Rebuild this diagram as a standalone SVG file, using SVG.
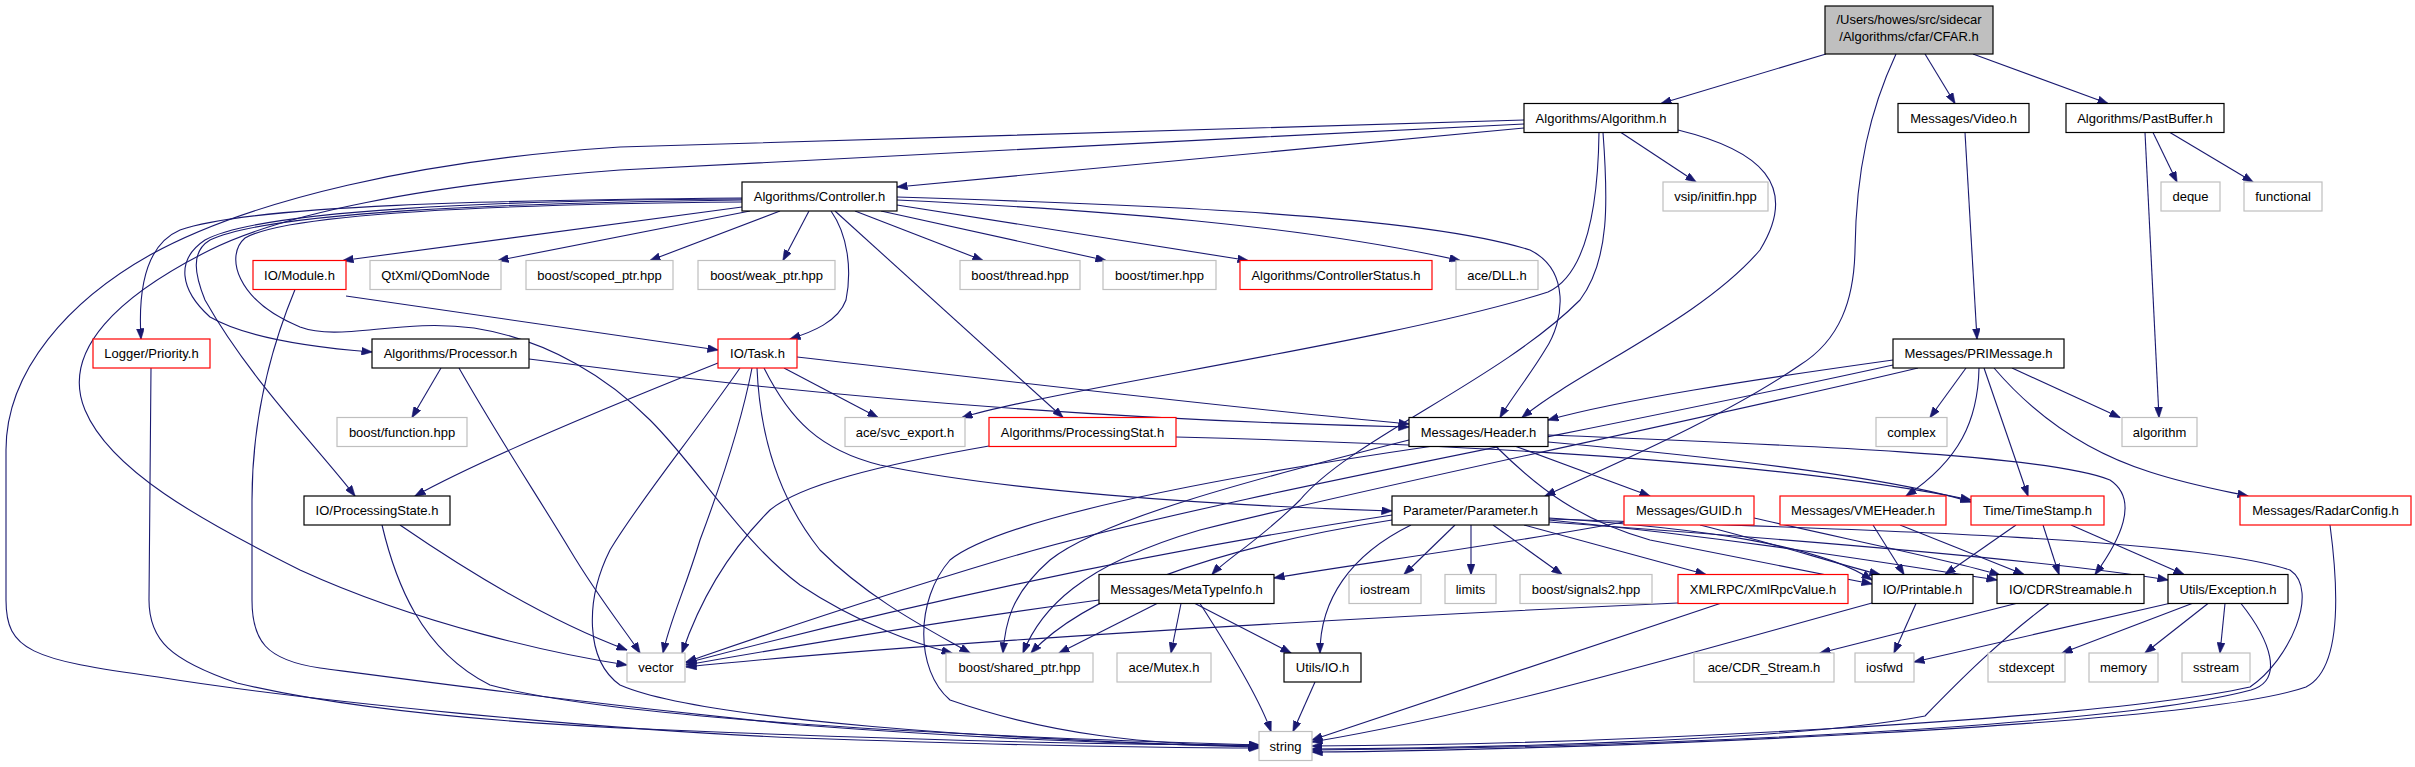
<svg xmlns="http://www.w3.org/2000/svg" width="2415" height="767" viewBox="0 0 2415 767">
<style>
.e path{fill:none;stroke:#191970;stroke-width:1.1;marker-end:url(#ah)}
.nb rect{fill:#fff;stroke:#000;stroke-width:1.2}
.nr rect{fill:#fff;stroke:#ff0000;stroke-width:1.2}
.ng rect{fill:#fff;stroke:#bfbfbf;stroke-width:1.2}
.nc rect{fill:#bfbfbf;stroke:#000;stroke-width:1.2}
text{font-family:"Liberation Sans",Arial,Helvetica,sans-serif;font-size:13px;text-anchor:middle;fill:#000}
</style>
<defs>
<marker id="ah" markerUnits="userSpaceOnUse" markerWidth="11" markerHeight="8" viewBox="0 0 11 8" refX="10.5" refY="4" orient="auto"><path d="M0,0 L11,4 L0,8 z" fill="#191970" stroke="#191970" stroke-width="0.5"/></marker>
</defs>
<rect width="2415" height="767" fill="#fff"/>
<g id="edges" class="e">
<path d="M1826,54 L1661,103.5"/>
<path d="M1925,54 L1955,103.5"/>
<path d="M1973,54 L2108,103.5"/>
<path d="M1896,54 C1870,110 1856,170 1855,250 C1854,300 1840,340 1800,365 C1720,420 1600,470 1545,496"/>
<path d="M1524,128 L897,187"/>
<path d="M1621,132.5 L1696,182"/>
<path d="M1678,130 C1760,150 1800,185 1760,250 C1700,320 1580,370 1522,417.5"/>
<path d="M1603,132.5 C1608,200 1610,260 1580,300 C1500,380 1350,440 1300,500 C1260,540 1225,560 1212,574.5"/>
<path d="M1599,132.5 C1598,210 1585,275 1548,292 C1400,340 1050,390 962,417.5"/>
<path d="M1524,124 C1200,140 800,160 620,170 C420,185 280,215 210,250 C120,295 60,350 85,410 C110,470 200,520 300,570 C420,625 560,655 627,665"/>
<path d="M1524,120 C1150,132 800,140 620,147 C420,160 250,200 150,255 C70,300 6,370 6,450 L6,600 C6,650 30,660 158,677 C300,700 600,730 800,738 C1000,745 1150,748 1259,748"/>
<path d="M742,198 C500,200 250,205 180,230 C145,245 138,290 141,339"/>
<path d="M742,207 L343,260.5"/>
<path d="M750,211 L498,260.5"/>
<path d="M780,211 L650,260.5"/>
<path d="M809,211 L783,260.5"/>
<path d="M855,211 L983,260.5"/>
<path d="M881,211 L1106,260.5"/>
<path d="M897,205 L1248,260.5"/>
<path d="M897,200 C1100,210 1300,225 1460,260.5"/>
<path d="M831,211 C848,235 852,270 846,300 C838,322 812,332 790,339"/>
<path d="M835,211 L1063,417.5"/>
<path d="M897,197 C1150,205 1420,215 1530,250 C1570,270 1565,320 1545,350 C1530,375 1510,400 1500,417.5"/>
<path d="M742,199 C500,200 260,210 205,240 C175,260 180,290 210,317 C250,340 320,348 372,352"/>
<path d="M742,200 C500,203 270,212 210,240 C190,252 195,275 205,300 C250,380 320,450 355,496"/>
<path d="M742,202 C520,204 290,212 245,238 C225,255 235,300 300,327 C340,342 400,318 474,328 C550,340 610,380 650,420 C700,470 740,540 800,585 C860,625 920,645 952,653"/>
<path d="M1965,132.5 L1977,339"/>
<path d="M2153,132.5 L2177,182"/>
<path d="M2170,132.5 L2253,182"/>
<path d="M2145,132.5 L2159,417.5"/>
<path d="M346,296 L718,350"/>
<path d="M295,289.5 C270,350 252,420 252,500 L252,600 C252,640 265,660 320,668 C450,685 600,705 800,725 C1000,740 1150,745 1259,746"/>
<path d="M151,368 L149,600 C149,640 170,660 237,683 C350,710 500,722 620,728 C900,740 1100,745 1259,745"/>
<path d="M441,368 L412,417.5"/>
<path d="M529,359 C800,395 1100,420 1409,427"/>
<path d="M459,368 C500,440 540,500 570,550 C600,600 625,630 640,653"/>
<path d="M718,363 C600,410 480,460 415,496"/>
<path d="M784,368 L878,417.5"/>
<path d="M797,357 C1000,380 1200,405 1409,424"/>
<path d="M764,368 C790,420 820,450 880,465 C1000,490 1200,505 1392,511"/>
<path d="M752,368 C740,430 715,500 700,540 C685,590 670,620 663,653"/>
<path d="M757,368 C760,440 780,500 820,550 C870,600 930,630 970,653"/>
<path d="M740,368 C690,440 640,500 610,550 C585,600 585,660 620,685 C700,720 1000,740 1259,747"/>
<path d="M1966,368 L1930,417.5"/>
<path d="M2012,368 L2120,417.5"/>
<path d="M1979,368 C1978,420 1960,460 1906,496"/>
<path d="M1984,368 L2028,496"/>
<path d="M1994,368 C2030,410 2080,450 2150,472 C2190,485 2220,490 2248,496"/>
<path d="M1893,360 C1750,380 1620,400 1548,420"/>
<path d="M1893,365 C1600,430 1200,500 1000,560 C850,605 750,640 686,662"/>
<path d="M1918,368 C1700,420 1400,480 1200,530 C1080,565 1040,610 1023,653"/>
<path d="M989,446 C880,465 800,485 770,510 C730,550 700,600 682,653"/>
<path d="M1176,437 C1500,445 1800,465 1971,500"/>
<path d="M1516,446.5 L1650,496"/>
<path d="M1548,442 C1750,460 1900,480 1971,502"/>
<path d="M1548,435 C1800,445 2050,455 2110,480 C2140,500 2120,540 2095,574.5"/>
<path d="M1496,446.5 C1540,490 1580,520 1650,540 C1750,560 1830,575 1872,584"/>
<path d="M1409,440 C1250,480 1100,520 1050,560 C1010,595 1005,625 1003,653"/>
<path d="M1430,446.5 C1200,480 1000,520 950,560 C915,600 915,670 950,700 C1050,735 1150,745 1259,746"/>
<path d="M400,525 C480,580 560,625 627,650"/>
<path d="M382,525 C395,580 420,650 490,685 C600,715 900,735 1259,745"/>
<path d="M1392,515 C1100,560 850,620 686,663"/>
<path d="M1392,520 C1200,550 1080,600 1031,653"/>
<path d="M1455,525 L1404,574.5"/>
<path d="M1471,525 L1471,574.5"/>
<path d="M1493,525 L1562,574.5"/>
<path d="M1524,525 L1706,574.5"/>
<path d="M1411,525 C1350,555 1320,600 1320,653"/>
<path d="M1549,518 C1700,528 1820,545 1872,580"/>
<path d="M1549,520 C1750,540 1900,565 1997,580"/>
<path d="M1549,522 C1800,540 2050,560 2168,580"/>
<path d="M1549,519 C1900,530 2200,540 2290,570 C2320,590 2290,660 2250,687 C2100,720 1600,745 1312,746"/>
<path d="M1624,522 C1500,545 1350,565 1274,578"/>
<path d="M1700,525 C1780,545 1840,565 1880,574.5"/>
<path d="M1754,518 C1850,540 1950,560 2000,575"/>
<path d="M1873,525 L1904,574.5"/>
<path d="M1900,525 L2024,574.5"/>
<path d="M2016,525 L1945,574.5"/>
<path d="M2043,525 L2059,574.5"/>
<path d="M2071,525 L2184,574.5"/>
<path d="M2330,525 C2340,600 2340,670 2306,687 C2200,725 1600,750 1312,752"/>
<path d="M1099,600 C950,620 800,645 686,665"/>
<path d="M1157,603.5 L1059,653"/>
<path d="M1181,603.5 L1171,653"/>
<path d="M1195,603.5 L1291,653"/>
<path d="M1200,603.5 C1230,650 1260,700 1271,731.5"/>
<path d="M1678,603 C1300,620 900,645 686,667"/>
<path d="M1720,603.5 C1550,660 1400,710 1312,740"/>
<path d="M1315,682 L1293,731.5"/>
<path d="M1916,603.5 L1894,653"/>
<path d="M1872,603 C1700,650 1500,710 1312,742"/>
<path d="M2016,603.5 L1820,653"/>
<path d="M2049,603.5 C2000,640 1960,680 1925,716 C1800,740 1500,748 1312,749"/>
<path d="M2169,603.5 L1914,662"/>
<path d="M2192,603.5 L2062,653"/>
<path d="M2208,603.5 L2145,653"/>
<path d="M2225,603.5 L2220,653"/>
<path d="M2241,603.5 C2270,640 2285,680 2251,690 C2100,730 1600,748 1312,750"/>
</g>
<g id="n-cfar" class="nc"><rect x="1825" y="6" width="168" height="48"/><text x="1909" y="24">/Users/howes/src/sidecar</text><text x="1909" y="41">/Algorithms/cfar/CFAR.h</text></g>
<g id="n-algorithm-h" class="nb"><rect x="1524" y="103.5" width="154" height="29"/><text x="1601" y="122.5">Algorithms/Algorithm.h</text></g>
<g id="n-video" class="nb"><rect x="1898" y="103.5" width="131" height="29"/><text x="1963.5" y="122.5">Messages/Video.h</text></g>
<g id="n-pastbuffer" class="nb"><rect x="2066" y="103.5" width="158" height="29"/><text x="2145" y="122.5">Algorithms/PastBuffer.h</text></g>
<g id="n-controller" class="nb"><rect x="742" y="182" width="155" height="29"/><text x="819.5" y="201">Algorithms/Controller.h</text></g>
<g id="n-vsip" class="ng"><rect x="1663" y="182" width="105" height="29"/><text x="1715.5" y="201">vsip/initfin.hpp</text></g>
<g id="n-deque" class="ng"><rect x="2161" y="182" width="59" height="29"/><text x="2190.5" y="201">deque</text></g>
<g id="n-functional" class="ng"><rect x="2244" y="182" width="78" height="29"/><text x="2283" y="201">functional</text></g>
<g id="n-module" class="nr"><rect x="253" y="260.5" width="93" height="29"/><text x="299.5" y="279.5">IO/Module.h</text></g>
<g id="n-qdomnode" class="ng"><rect x="370" y="260.5" width="131" height="29"/><text x="435.5" y="279.5">QtXml/QDomNode</text></g>
<g id="n-scoped" class="ng"><rect x="526" y="260.5" width="147" height="29"/><text x="599.5" y="279.5">boost/scoped_ptr.hpp</text></g>
<g id="n-weak" class="ng"><rect x="698" y="260.5" width="137" height="29"/><text x="766.5" y="279.5">boost/weak_ptr.hpp</text></g>
<g id="n-thread" class="ng"><rect x="960" y="260.5" width="120" height="29"/><text x="1020" y="279.5">boost/thread.hpp</text></g>
<g id="n-timer" class="ng"><rect x="1103" y="260.5" width="113" height="29"/><text x="1159.5" y="279.5">boost/timer.hpp</text></g>
<g id="n-ctrlstatus" class="nr"><rect x="1240" y="260.5" width="192" height="29"/><text x="1336" y="279.5">Algorithms/ControllerStatus.h</text></g>
<g id="n-dll" class="ng"><rect x="1456" y="260.5" width="82" height="29"/><text x="1497" y="279.5">ace/DLL.h</text></g>
<g id="n-logger" class="nr"><rect x="93" y="339" width="117" height="29"/><text x="151.5" y="358">Logger/Priority.h</text></g>
<g id="n-processor" class="nb"><rect x="372" y="339" width="157" height="29"/><text x="450.5" y="358">Algorithms/Processor.h</text></g>
<g id="n-task" class="nr"><rect x="718" y="339" width="79" height="29"/><text x="757.5" y="358">IO/Task.h</text></g>
<g id="n-primessage" class="nb"><rect x="1893" y="339" width="171" height="29"/><text x="1978.5" y="358">Messages/PRIMessage.h</text></g>
<g id="n-function" class="ng"><rect x="337" y="417.5" width="130" height="29"/><text x="402" y="436.5">boost/function.hpp</text></g>
<g id="n-svcexport" class="ng"><rect x="845" y="417.5" width="120" height="29"/><text x="905" y="436.5">ace/svc_export.h</text></g>
<g id="n-procstat" class="nr"><rect x="989" y="417.5" width="187" height="29"/><text x="1082.5" y="436.5">Algorithms/ProcessingStat.h</text></g>
<g id="n-header" class="nb"><rect x="1409" y="417.5" width="139" height="29"/><text x="1478.5" y="436.5">Messages/Header.h</text></g>
<g id="n-complex" class="ng"><rect x="1876" y="417.5" width="71" height="29"/><text x="1911.5" y="436.5">complex</text></g>
<g id="n-algorithm" class="ng"><rect x="2122" y="417.5" width="75" height="29"/><text x="2159.5" y="436.5">algorithm</text></g>
<g id="n-procstate" class="nb"><rect x="304" y="496" width="146" height="29"/><text x="377" y="515">IO/ProcessingState.h</text></g>
<g id="n-parameter" class="nb"><rect x="1392" y="496" width="157" height="29"/><text x="1470.5" y="515">Parameter/Parameter.h</text></g>
<g id="n-guid" class="nr"><rect x="1624" y="496" width="130" height="29"/><text x="1689" y="515">Messages/GUID.h</text></g>
<g id="n-vmeheader" class="nr"><rect x="1780" y="496" width="166" height="29"/><text x="1863" y="515">Messages/VMEHeader.h</text></g>
<g id="n-timestamp" class="nr"><rect x="1971" y="496" width="133" height="29"/><text x="2037.5" y="515">Time/TimeStamp.h</text></g>
<g id="n-radarconfig" class="nr"><rect x="2240" y="496" width="171" height="29"/><text x="2325.5" y="515">Messages/RadarConfig.h</text></g>
<g id="n-metatype" class="nb"><rect x="1099" y="574.5" width="175" height="29"/><text x="1186.5" y="593.5">Messages/MetaTypeInfo.h</text></g>
<g id="n-iostream" class="ng"><rect x="1349" y="574.5" width="72" height="29"/><text x="1385" y="593.5">iostream</text></g>
<g id="n-limits" class="ng"><rect x="1445" y="574.5" width="51" height="29"/><text x="1470.5" y="593.5">limits</text></g>
<g id="n-signals2" class="ng"><rect x="1520" y="574.5" width="132" height="29"/><text x="1586" y="593.5">boost/signals2.hpp</text></g>
<g id="n-xmlrpc" class="nr"><rect x="1678" y="574.5" width="170" height="29"/><text x="1763" y="593.5">XMLRPC/XmlRpcValue.h</text></g>
<g id="n-printable" class="nb"><rect x="1872" y="574.5" width="101" height="29"/><text x="1922.5" y="593.5">IO/Printable.h</text></g>
<g id="n-cdrstreamable" class="nb"><rect x="1997" y="574.5" width="147" height="29"/><text x="2070.5" y="593.5">IO/CDRStreamable.h</text></g>
<g id="n-exception" class="nb"><rect x="2168" y="574.5" width="120" height="29"/><text x="2228" y="593.5">Utils/Exception.h</text></g>
<g id="n-vector" class="ng"><rect x="627" y="653" width="58" height="29"/><text x="656" y="672">vector</text></g>
<g id="n-sharedptr" class="ng"><rect x="946" y="653" width="147" height="29"/><text x="1019.5" y="672">boost/shared_ptr.hpp</text></g>
<g id="n-mutex" class="ng"><rect x="1117" y="653" width="94" height="29"/><text x="1164" y="672">ace/Mutex.h</text></g>
<g id="n-utilsio" class="nb"><rect x="1284" y="653" width="77" height="29"/><text x="1322.5" y="672">Utils/IO.h</text></g>
<g id="n-cdrstream" class="ng"><rect x="1694" y="653" width="140" height="29"/><text x="1764" y="672">ace/CDR_Stream.h</text></g>
<g id="n-iosfwd" class="ng"><rect x="1855" y="653" width="59" height="29"/><text x="1884.5" y="672">iosfwd</text></g>
<g id="n-stdexcept" class="ng"><rect x="1988" y="653" width="77" height="29"/><text x="2026.5" y="672">stdexcept</text></g>
<g id="n-memory" class="ng"><rect x="2089" y="653" width="69" height="29"/><text x="2123.5" y="672">memory</text></g>
<g id="n-sstream" class="ng"><rect x="2182" y="653" width="68" height="29"/><text x="2216" y="672">sstream</text></g>
<g id="n-string" class="ng"><rect x="1259" y="731.5" width="53" height="29"/><text x="1285.5" y="750.5">string</text></g>
</svg>
